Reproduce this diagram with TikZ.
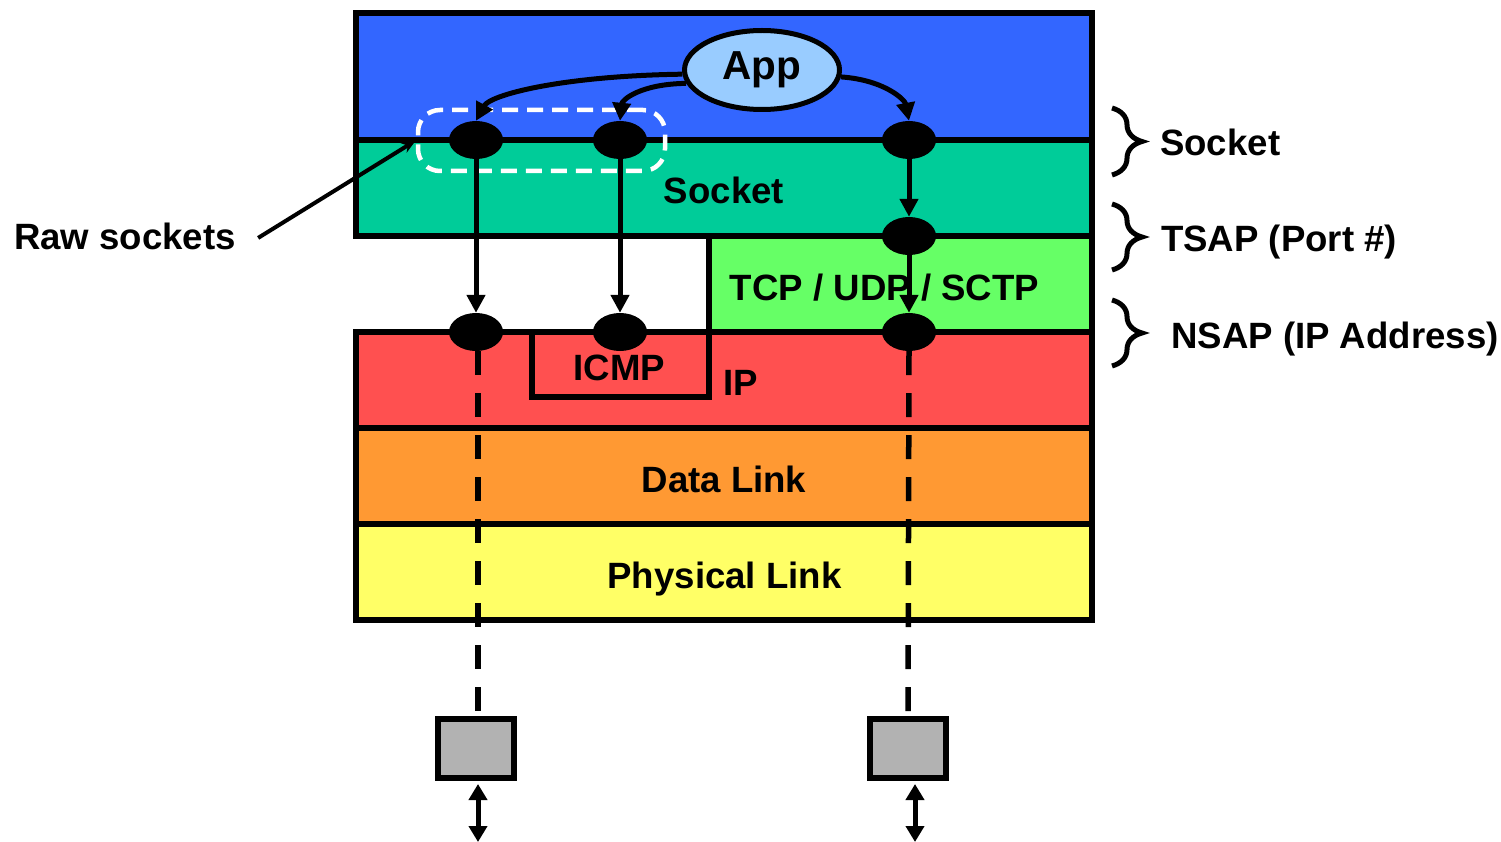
\documentclass[tikz,border=0pt]{standalone}
\usepackage{fontspec}
\setmainfont{Liberation Sans}
\usetikzlibrary{shapes.geometric,arrows.meta,decorations.pathreplacing}
\definecolor{appblue}{HTML}{3366FF}
\definecolor{sockgreen}{HTML}{00CC99}
\definecolor{tcpgreen}{HTML}{66FF66}
\definecolor{ipred}{HTML}{FF5050}
\definecolor{dlorange}{HTML}{FF9933}
\definecolor{phyellow}{HTML}{FFFF66}
\definecolor{appfill}{HTML}{99CCFF}
\begin{document}
\begin{tikzpicture}[x=1pt,y=-1pt,
  lbl/.style={font=\fontsize{36.6}{40}\selectfont\bfseries, inner sep=0pt},
  border/.style={line width=6pt},
  sap/.style={ellipse, fill=black, minimum width=54pt, minimum height=38pt, inner sep=0pt},
  flow/.style={line width=5pt, -{Triangle[length=18pt,width=18pt]}},
  wire/.style={line width=5.5pt, dash pattern=on 24pt off 18pt},
  nic/.style={draw, line width=6pt, fill=black!30, minimum width=76pt, minimum height=59pt, inner sep=0pt},
  link/.style={line width=5pt, {Triangle[length=16pt,width=18pt]}-{Triangle[length=16pt,width=18pt]}},
  sapbrace/.style={line width=5pt, decorate, decoration={brace, amplitude=30pt}},
]
\useasboundingbox (0,0) rectangle (1501,842);

% protocol layers
\filldraw[border, fill=appblue]   (356,13)  rectangle (1092,140);
\filldraw[border, fill=sockgreen] (356,140) rectangle (1092,236);
\filldraw[border, fill=tcpgreen]  (709,236) rectangle (1092,332);
\filldraw[border, fill=ipred]     (356,332) rectangle (1092,428);
\filldraw[border, fill=dlorange]  (356,428) rectangle (1092,524);
\filldraw[border, fill=phyellow]  (356,524) rectangle (1092,620);
\draw[border] (532,332) rectangle (709,397);

% layer names
\node[lbl, anchor=base] (socklbl) at (724,204) {Socket};
\node[lbl, anchor=base] (tcplbl) at (884.5,300) {TCP / UDP / SCTP};
\node[lbl, anchor=base] (icmplbl) at (619.5,380) {ICMP};
\node[lbl, anchor=base west] (iplbl) at (723,395) {IP};
\node[lbl, anchor=base] (dllbl) at (724,492) {Data Link};
\node[lbl, anchor=base] (phylbl) at (724.5,588) {Physical Link};

% application
\node[ellipse, draw, line width=5pt, fill=appfill, minimum width=155pt, minimum height=79pt, inner sep=0pt,
      font=\fontsize{40.5}{44}\selectfont\bfseries] (app) at (762,70) {App};

% raw socket group
\node[draw=white, line width=4.5pt, dash pattern=on 16pt off 9pt, rounded corners=22pt,
      minimum width=247pt, minimum height=61pt, inner sep=0pt] (rawbox) at (541.5,140.5) {};

% service access points
\node[sap] (s1) at (476,140) {};
\node[sap] (s2) at (620,140) {};
\node[sap] (s3) at (909,140) {};
\node[sap] (t1) at (909,236) {};
\node[sap] (ip1) at (476,332) {};
\node[sap] (ip2) at (620,332) {};
\node[sap] (ip3) at (909,332) {};

% network interfaces
\node[nic] (nic1) at (476,748.5) {};
\node[nic] (nic2) at (908,748.5) {};
\coordinate (end1) at (478,842);
\coordinate (end2) at (915,842);

% data paths
\draw[flow] (app.183) .. controls (560,76) and (490,95) .. (s1.north);
\draw[flow] (app.190) .. controls (640,84) and (622,100) .. (s2.north);
\draw[flow] (app.-5) .. controls (885,80) and (905,100) .. (s3.north);
\draw[flow] (s1.south) -- (ip1.north);
\draw[flow] (s2.south) -- (ip2.north);
\draw[flow] (s3.south) -- (t1.north);
\draw[flow] (t1.south) -- (ip3.north);
\draw[wire] ([xshift=2pt]ip1.south) -- ([xshift=2pt]nic1.north);
\draw[wire] (ip3.south) -- (nic2.north);
\draw[link, shorten <=3pt] ([xshift=2pt]nic1.south) -- (end1);
\draw[link, shorten <=3pt] ([xshift=7pt]nic2.south) -- (end2);

% annotation
\node[lbl, anchor=base west] (rawlbl) at (14,250) {Raw sockets};
\draw[line width=4pt, -{Stealth[length=14pt,width=11pt]}] ([xshift=22pt,yshift=-1pt]rawlbl.east) -- (rawbox.west);

% access point levels
\draw[sapbrace] (1112,108) -- (1112,175);
\draw[sapbrace] (1112,204) -- (1112,270);
\draw[sapbrace] (1112,300) -- (1112,366);
\node[lbl, anchor=base west] (sockname) at (1160,156) {Socket};
\node[lbl, anchor=base west] (tsap) at (1161,252) {TSAP (Port \#)};
\node[lbl, anchor=base west] (nsap) at (1171,348) {NSAP (IP Address)};
\end{tikzpicture}
\end{document}
